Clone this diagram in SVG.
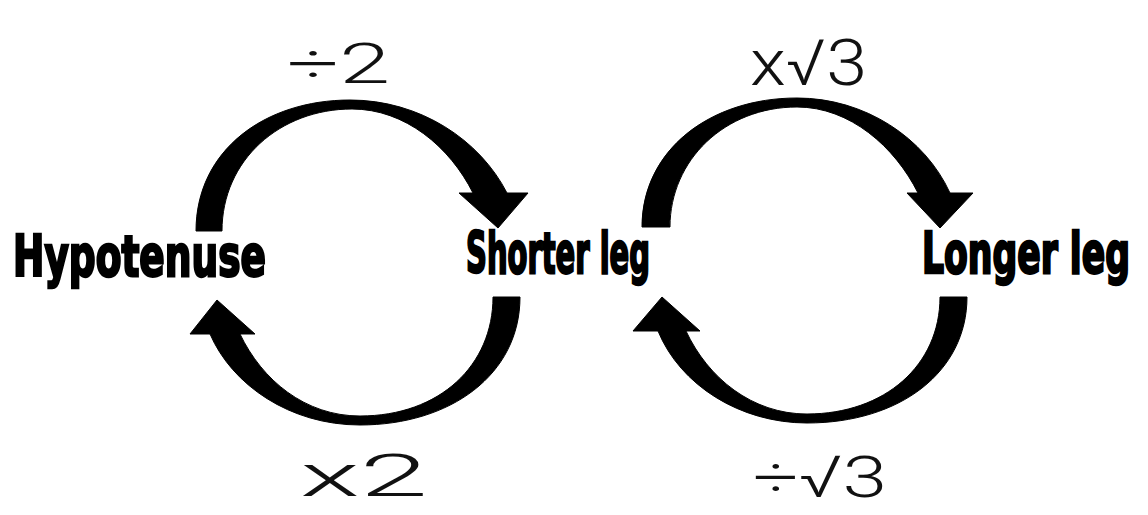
<svg xmlns="http://www.w3.org/2000/svg" width="1148" height="515" viewBox="0 0 1148 515">
<style>
.node{font-family:"Liberation Sans Narrow","DejaVu Sans Condensed","Liberation Sans",sans-serif;font-weight:bold;font-size:50px;fill:#000;stroke:#000;stroke-width:2.2px}
.arrow{fill:#000;stroke:#000;stroke-width:1}
.hand{font-family:"Roboto","DejaVu Sans",sans-serif;font-weight:300;fill:#111}
</style>
<rect width="1148" height="515" fill="#fff"/>
<g id="connectors">
  <g id="hyp-to-short">
    <path class="arrow" d="M196,231 C196,150 265,100 350,100 C420,100 480,140 507,193 L528,193 L498,228 L459,193 L473,193 C450,147 405,109 352,109 C280,109 222,160 222,231 Z"/>
    <text class="hand" x="287" y="83" font-size="56" textLength="103" lengthAdjust="spacingAndGlyphs">÷2</text>
  </g>
  <g id="short-to-hyp">
    <path class="arrow" d="M520,297 C520,375 450,425 360,425 C290,425 232,385 210,334 L190,334 L217,300 L255,334 L240,334 C262,380 305,416 360,416 C440,416 493,365 493,297 Z"/>
    <text class="hand" x="300" y="496" font-size="60" textLength="128" lengthAdjust="spacingAndGlyphs">x2</text>
  </g>
  <g id="short-to-long">
    <path class="arrow" d="M642,227 C642,150 710,98 797,98 C865,98 925,138 950,193 L973,193 L940,228 L907,193 L918,193 C895,147 850,107 797,107 C725,107 670,160 670,227 Z"/>
    <text class="hand" x="750" y="85" font-size="64" textLength="117" lengthAdjust="spacingAndGlyphs">x√3</text>
  </g>
  <g id="long-to-short">
    <path class="arrow" d="M967,297 C967,372 900,423 807,423 C740,423 680,385 658,331 L633,331 L662,297 L700,331 L686,331 C708,378 752,414 807,414 C885,414 940,365 940,297 Z"/>
    <text class="hand" x="753" y="497" font-size="58" textLength="134" lengthAdjust="spacingAndGlyphs">÷√3</text>
  </g>
</g>
<g id="hypotenuse">
  <text class="node" transform="translate(13,276) scale(1,1.15)" x="0" y="0" textLength="253" lengthAdjust="spacingAndGlyphs">Hypotenuse</text>
</g>
<g id="shorter-leg">
  <text class="node" transform="translate(466,273) scale(1,1.15)" x="0" y="0" textLength="184" lengthAdjust="spacingAndGlyphs">Shorter leg</text>
</g>
<g id="longer-leg">
  <text class="node" transform="translate(1130,273) scale(1,1.15)" x="0" y="0" text-anchor="end" textLength="208" lengthAdjust="spacingAndGlyphs">Longer leg</text>
</g>
</svg>
